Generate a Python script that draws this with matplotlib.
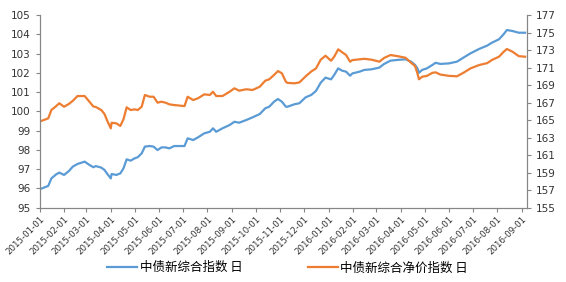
import matplotlib
matplotlib.use("Agg")
import matplotlib.pyplot as plt
import matplotlib.dates as mdates
import pandas as pd

plt.rcParams['font.family'] = ['DejaVu Sans']

dates = [
    "2015-01-04", "2015-01-12", "2015-01-16", "2015-01-22", "2015-01-26", "2015-02-01", "2015-02-07", "2015-02-12", "2015-02-18", "2015-02-27",
    "2015-03-05", "2015-03-10", "2015-03-13", "2015-03-20", "2015-03-24", "2015-03-28", "2015-04-01", "2015-04-02", "2015-04-08", "2015-04-13",
    "2015-04-17", "2015-04-21", "2015-04-26", "2015-05-01", "2015-05-05", "2015-05-10", "2015-05-14", "2015-05-20", "2015-05-25", "2015-05-30",
    "2015-06-04", "2015-06-09", "2015-06-14", "2015-06-20", "2015-07-03", "2015-07-07", "2015-07-14", "2015-07-20", "2015-07-28", "2015-08-04",
    "2015-08-08", "2015-08-12", "2015-08-20", "2015-08-29", "2015-09-04", "2015-09-10", "2015-09-19", "2015-09-27", "2015-10-06", "2015-10-13",
    "2015-10-18", "2015-10-24", "2015-10-29", "2015-11-03", "2015-11-08", "2015-11-10", "2015-11-19", "2015-11-25", "2015-12-03", "2015-12-10",
    "2015-12-16", "2015-12-22", "2015-12-28", "2016-01-04", "2016-01-08", "2016-01-13", "2016-01-18", "2016-01-23", "2016-01-28", "2016-01-31",
    "2016-02-09", "2016-02-15", "2016-02-24", "2016-03-05", "2016-03-11", "2016-03-19", "2016-03-28", "2016-04-07", "2016-04-14", "2016-04-19",
    "2016-04-22", "2016-04-24", "2016-04-28", "2016-05-04", "2016-05-11", "2016-05-15", "2016-05-21", "2016-06-01", "2016-06-11", "2016-06-20",
    "2016-06-28", "2016-07-09", "2016-07-19", "2016-07-25", "2016-08-03", "2016-08-09", "2016-08-13", "2016-08-20", "2016-08-28", "2016-09-05",
]

# 中债新综合指数 (left axis)
total_idx = [
    96.0, 96.13, 96.52, 96.73, 96.82, 96.70, 96.9, 97.13, 97.27, 97.39,
    97.22, 97.1, 97.16, 97.08, 96.96, 96.73, 96.52, 96.75, 96.70, 96.78,
    97.04, 97.51, 97.44, 97.56, 97.62, 97.82, 98.17, 98.2, 98.17, 97.99,
    98.13, 98.13, 98.08, 98.2, 98.2, 98.6, 98.51, 98.65, 98.86, 98.94,
    99.12, 98.94, 99.12, 99.29, 99.46, 99.41, 99.55, 99.69, 99.86, 100.16,
    100.24, 100.5, 100.64, 100.5, 100.24, 100.24, 100.37, 100.42, 100.73, 100.85,
    101.06, 101.49, 101.75, 101.66, 101.89, 102.23, 102.11, 102.06, 101.85, 101.97,
    102.06, 102.15, 102.18, 102.27, 102.46, 102.63, 102.67, 102.70, 102.58, 102.41,
    102.23, 102.0, 102.15, 102.23, 102.41, 102.52, 102.46, 102.49, 102.58, 102.81,
    103.01, 103.24, 103.41, 103.56, 103.74, 104.01, 104.22, 104.17, 104.08, 104.08,
]

# 中债新综合净价指数 (right axis)
net_idx = [
    164.93, 165.2, 166.15, 166.6, 166.92, 166.53, 166.84, 167.2, 167.75, 167.75,
    167.1, 166.55, 166.5, 166.15, 165.7, 164.82, 164.06, 164.7, 164.63, 164.33,
    165.09, 166.46, 166.15, 166.23, 166.15, 166.53, 167.87, 167.67, 167.67, 166.99,
    167.1, 166.99, 166.8, 166.72, 166.6, 167.67, 167.29, 167.49, 167.94, 167.87,
    168.24, 167.75, 167.75, 168.24, 168.63, 168.36, 168.52, 168.44, 168.81, 169.5,
    169.66, 170.15, 170.6, 170.34, 169.38, 169.25, 169.2, 169.3, 170.0, 170.55,
    170.9, 171.9, 172.35, 171.78, 172.24, 173.08, 172.75, 172.43, 171.67, 171.85,
    171.94, 172.0, 171.9, 171.67, 172.1, 172.43, 172.3, 172.12, 171.55, 171.18,
    170.34, 169.66, 169.95, 170.05, 170.4, 170.45, 170.2, 170.05, 170.0, 170.45,
    170.9, 171.29, 171.5, 171.86, 172.24, 172.81, 173.12, 172.81, 172.3, 172.24,
]

labels = ["中债新综合指数 日", "中债新综合净价指数 日"]

x = pd.to_datetime(dates)
blue = "#5B9BD5"
orange = "#ED7D31"
grey = "#868686"

fig = plt.figure(figsize=(5.66, 2.82), dpi=100)
ax = fig.add_axes([0.0698, 0.2635, 0.8608, 0.6833])
ax2 = ax.twinx()

l1, = ax.plot(x, total_idx, color=blue, lw=1.6)
l2, = ax2.plot(x, net_idx, color=orange, lw=1.6)

ax.set_ylim(95, 105)
ax.set_yticks(range(95, 106))
ax2.set_ylim(155, 177)
ax2.set_yticks(range(155, 178, 2))
ax.set_xlim(pd.Timestamp("2015-01-01"), pd.Timestamp("2016-09-07"))
ax.xaxis.set_major_locator(mdates.MonthLocator())
ax.xaxis.set_major_formatter(mdates.DateFormatter("%Y-%m-%d"))

for a in (ax, ax2):
    a.spines['top'].set_visible(False)
    for s in ('left', 'right', 'bottom'):
        a.spines[s].set_color(grey)
        a.spines[s].set_linewidth(0.8)
    a.tick_params(colors=grey, labelcolor="#333333", labelsize=7.5, length=3, width=0.8)
ax.tick_params(axis='x', labelsize=6.2, pad=2)

for lbl in ax.get_xticklabels():
    lbl.set_rotation(45)
    lbl.set_ha('right')
    lbl.set_rotation_mode('anchor')

fig.legend([l1, l2], labels, loc='center', bbox_to_anchor=(0.508, 0.05), ncol=2,
           frameon=False, handlelength=2.4, handletextpad=0.2, columnspacing=5.2,
           prop={'family': ['Noto Sans CJK SC', 'DejaVu Sans'], 'size': 9})

fig.savefig("out.png", dpi=100)
